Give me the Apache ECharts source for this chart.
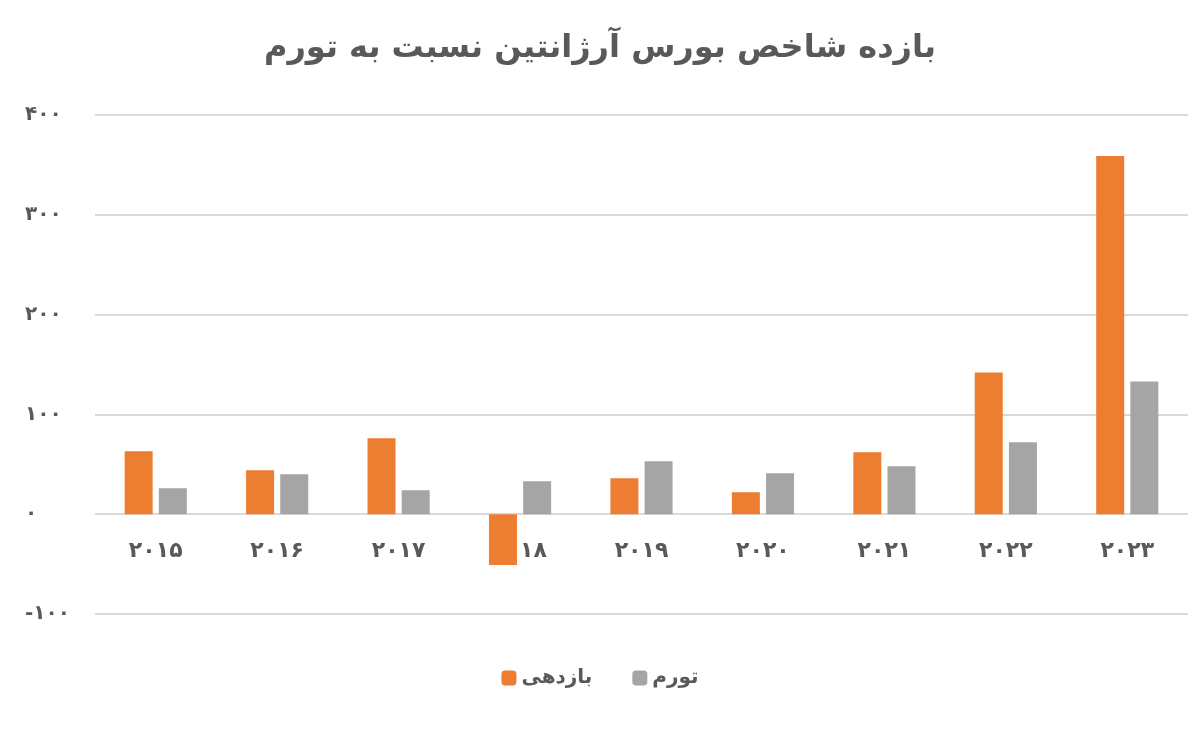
<!DOCTYPE html>
<html>
<head>
<meta charset="utf-8">
<script src="https://cdn.jsdelivr.net/npm/echarts@6/dist/echarts.min.js"></script>
<style>html,body{margin:0;padding:0;background:#fff}#c{width:1200px;height:729px}</style>
</head>
<body>
<div id="c"></div>
<script>
var years = ['۲۰۱۵', '۲۰۱۶', '۲۰۱۷', '۲۰۱۸', '۲۰۱۹', '۲۰۲۰', '۲۰۲۱', '۲۰۲۲', '۲۰۲۳'];
var returns = [63, 44, 76, -51, 36, 22, 62, 142, 359];   // بازدهی
var inflation = [26, 40, 24, 33, 53, 41, 48, 72, 133];   // تورم

function fa(n) {
	return String(n).replace(/\d/g, function (d) { return '۰۱۲۳۴۵۶۷۸۹'[d]; });
}

var chart = echarts.init(document.getElementById('c'));
chart.setOption({
	textStyle: { fontFamily: 'DejaVu Sans' },
	title: {
		text: 'بازده شاخص بورس آرژانتین نسبت به تورم',
		left: 'center', top: 28,
		textStyle: { fontSize: 32, fontWeight: 'bold', color: '#595959', fontFamily: 'DejaVu Sans' }
	},
	legend: {
		bottom: 36, left: 'center', itemWidth: 15, itemHeight: 15, itemGap: 40,
		data: ['بازدهی', 'تورم'],
		textStyle: { fontSize: 20, color: '#595959', fontWeight: 'bold' }
	},
	grid: { left: 95, right: 12, top: 115, bottom: 115 },
	xAxis: {
		type: 'category', data: years,
		offset: -100,
		axisLine: { show: false },
		axisTick: { show: false },
		axisLabel: { fontSize: 22, fontWeight: 'bold', color: '#595959', margin: 26 }
	},
	yAxis: {
		type: 'value', min: -100, max: 400, interval: 100,
		axisLine: { show: false }, axisTick: { show: false },
		splitLine: { lineStyle: { color: '#d9d9d9', width: 2 } },
		axisLabel: {
			fontSize: 20, fontWeight: 'bold', color: '#595959', align: 'left', margin: 70,
			formatter: function (v) { return v < 0 ? '-' + fa(-v) : fa(v); }
		}
	},
	series: [
		{ name: 'بازدهی', type: 'bar', data: returns, barWidth: 28, barGap: '22%', itemStyle: { color: '#ED7D31' } },
		{ name: 'تورم', type: 'bar', data: inflation, barWidth: 28, itemStyle: { color: '#A5A5A5' } }
	]
});
</script>
</body>
</html>
